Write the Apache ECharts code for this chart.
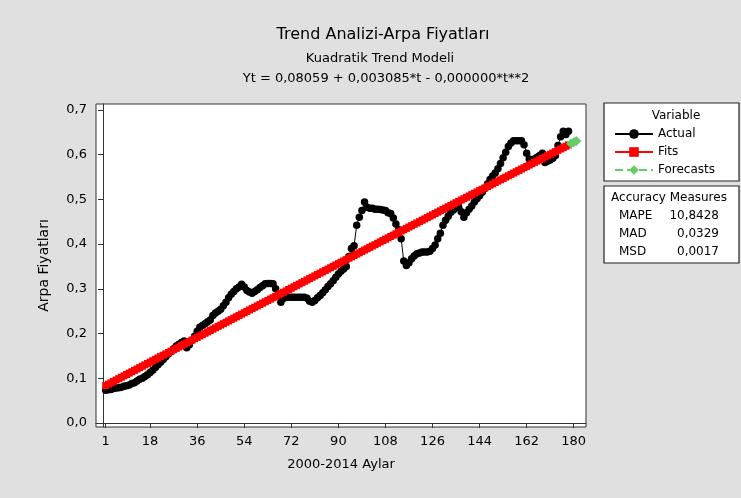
<!DOCTYPE html>
<html>
<head>
<meta charset="utf-8">
<script src="https://cdn.jsdelivr.net/npm/echarts@6/dist/echarts.min.js"></script>
<style>
  html, body { margin: 0; padding: 0; background: #e0e0e0; }
  #chart { width: 741px; height: 498px; }
</style>
</head>
<body>
<div id="chart"></div>
<script>
// Monthly barley prices (index t = 1..n)
const actual = [
  0.073, 0.074, 0.075, 0.077, 0.078, 0.079, 0.080, 0.082, 0.083, 0.085,
  0.088, 0.090, 0.094, 0.098, 0.100, 0.104, 0.108, 0.113, 0.118, 0.124,
  0.130, 0.136, 0.142, 0.148, 0.154, 0.160, 0.166, 0.172, 0.176, 0.180,
  0.183, 0.168, 0.175, 0.185, 0.194, 0.205, 0.214, 0.218, 0.222, 0.226,
  0.230, 0.240, 0.246, 0.250, 0.254, 0.262, 0.270, 0.280, 0.288, 0.294,
  0.300, 0.304, 0.310, 0.304, 0.296, 0.293, 0.290, 0.294, 0.298, 0.303,
  0.307, 0.311, 0.312, 0.312, 0.311, 0.300, 0.285, 0.270, 0.278, 0.281,
  0.281, 0.281, 0.281, 0.281, 0.281, 0.281, 0.281, 0.279, 0.272, 0.270,
  0.274, 0.280, 0.285, 0.291, 0.298, 0.305, 0.311, 0.318, 0.326, 0.333,
  0.339, 0.344, 0.350, 0.372, 0.390, 0.396, 0.442, 0.460, 0.475, 0.494,
  0.482, 0.480, 0.480, 0.478, 0.478, 0.477, 0.476, 0.475, 0.470, 0.468,
  0.458, 0.445, 0.432, 0.412, 0.362, 0.352, 0.358, 0.367, 0.373, 0.378,
  0.380, 0.382, 0.382, 0.382, 0.384, 0.390, 0.398, 0.412, 0.424, 0.442,
  0.453, 0.462, 0.471, 0.476, 0.481, 0.482, 0.472, 0.460, 0.470, 0.478,
  0.485, 0.494, 0.501, 0.508, 0.516, 0.524, 0.534, 0.544, 0.552, 0.559,
  0.568, 0.580, 0.593, 0.605, 0.618, 0.626, 0.631, 0.631, 0.631, 0.631,
  0.622, 0.603, 0.590, 0.586, 0.590, 0.594, 0.598, 0.603, 0.582, 0.585,
  0.588, 0.592, 0.598, 0.620, 0.640, 0.652, 0.645, 0.652
];

// Quadratic trend model: Yt = b0 + b1*t + b2*t^2
const trendCoef = [0.08059, 0.003085, -0.00000026];
const forecastPeriods = [179, 180, 181];

const xTicks = [1, 18, 36, 54, 72, 90, 108, 126, 144, 162, 180];
const yTicks = [0, 0.1, 0.2, 0.3, 0.4, 0.5, 0.6, 0.7];

const accuracyNames = ['MAPE', 'MAD', 'MSD'];
const accuracyValues = ['10,8428', '0,0329', '0,0017'];

const trend = t => trendCoef[0] + trendCoef[1] * t + trendCoef[2] * t * t;
const actualData = actual.map((v, i) => [i + 1, v]);
const fitData = actual.map((v, i) => [i + 1, trend(i + 1)]);
const forecastData = forecastPeriods.map(t => [t, trend(t)]);

const FONT = 'DejaVu Sans';
const comma = v => String(v).replace('.', ',');

const chart = echarts.init(document.getElementById('chart'), null, { renderer: 'canvas' });

const graphics = [
  { type: 'text', x: 383, y: 35, style: { text: 'Trend Analizi-Arpa Fiyatları', font: '16px ' + FONT, fill: '#000', textAlign: 'center', textVerticalAlign: 'middle' } },
  { type: 'text', x: 380, y: 59, style: { text: 'Kuadratik Trend Modeli', font: '13px ' + FONT, fill: '#000', textAlign: 'center', textVerticalAlign: 'middle' } },
  { type: 'text', x: 386, y: 79, style: { text: 'Yt = 0,08059 + 0,003085*t - 0,000000*t**2', font: '13px ' + FONT, fill: '#000', textAlign: 'center', textVerticalAlign: 'middle' } },
  // legend frame
  { type: 'rect', shape: { x: 604, y: 103, width: 135, height: 78 }, style: { fill: '#fff', stroke: '#222', lineWidth: 1.2 }, z: 0 },
  { type: 'text', x: 676, y: 116, style: { text: 'Variable', font: '12px ' + FONT, fill: '#000', textAlign: 'center', textVerticalAlign: 'middle' } },
  // accuracy measures box
  { type: 'rect', shape: { x: 604, y: 186, width: 135, height: 77 }, style: { fill: '#fff', stroke: '#222', lineWidth: 1.2 }, z: 0 },
  { type: 'text', x: 669, y: 198, style: { text: 'Accuracy Measures', font: '12px ' + FONT, fill: '#000', textAlign: 'center', textVerticalAlign: 'middle' } }
];
accuracyNames.forEach((name, i) => {
  graphics.push({ type: 'text', x: 619, y: 216 + i * 18, style: { text: name, font: '12px ' + FONT, fill: '#000', textAlign: 'left', textVerticalAlign: 'middle' } });
  graphics.push({ type: 'text', x: 719, y: 216 + i * 18, style: { text: accuracyValues[i], font: '12px ' + FONT, fill: '#000', textAlign: 'right', textVerticalAlign: 'middle' } });
});

chart.setOption({
  backgroundColor: '#e0e0e0',
  animation: false,
  textStyle: { fontFamily: FONT },
  grid: {
    left: 96, top: 104, right: 155, bottom: 71,
    show: true, backgroundColor: '#fff', borderColor: '#333', borderWidth: 1
  },
  legend: {
    orient: 'vertical',
    left: 609, top: 123,
    itemWidth: 38, itemHeight: 12, itemGap: 6,
    textStyle: { fontFamily: FONT, fontSize: 12, color: '#000' },
    data: ['Actual', 'Fits', 'Forecasts']
  },
  xAxis: {
    type: 'value',
    min: -2.7, max: 184.7,
    name: '2000-2014 Aylar',
    nameLocation: 'middle', nameGap: 31,
    nameTextStyle: { fontFamily: FONT, fontSize: 13, color: '#000' },
    axisLine: { show: true, lineStyle: { color: '#333', width: 1 } },
    axisTick: { show: true, inside: false, length: 5, customValues: xTicks, lineStyle: { color: '#333' } },
    axisLabel: { customValues: xTicks, fontFamily: FONT, fontSize: 13, color: '#000', margin: 8 },
    splitLine: { show: false }
  },
  yAxis: {
    type: 'value',
    min: -0.009, max: 0.713,
    name: 'Arpa Fiyatları',
    nameLocation: 'middle', nameGap: 45,
    nameTextStyle: { fontFamily: FONT, fontSize: 14, color: '#000' },
    axisLine: { show: true, lineStyle: { color: '#333', width: 1 } },
    axisTick: { show: true, inside: false, length: 5, customValues: yTicks, lineStyle: { color: '#333' } },
    axisLabel: { customValues: yTicks, fontFamily: FONT, fontSize: 13, color: '#000', margin: 9, formatter: v => comma(v.toFixed(1)) },
    splitLine: { show: false }
  },
  series: [
    {
      name: 'Actual', type: 'line', data: actualData,
      symbol: 'circle', symbolSize: 7.5, showSymbol: true,
      lineStyle: { color: '#000', width: 1 },
      itemStyle: { color: '#000' }, z: 2
    },
    {
      name: 'Fits', type: 'line', data: fitData,
      symbol: 'rect', symbolSize: 7, showSymbol: true,
      lineStyle: { color: '#ff0000', width: 1 },
      itemStyle: { color: '#ff0000' }, z: 3
    },
    {
      name: 'Forecasts', type: 'line', data: forecastData,
      symbol: 'diamond', symbolSize: 10, showSymbol: true,
      lineStyle: { color: '#66cc66', width: 1, type: 'dashed' },
      itemStyle: { color: '#66cc66' }, z: 4
    }
  ],
  graphic: graphics
});
</script>
</body>
</html>
